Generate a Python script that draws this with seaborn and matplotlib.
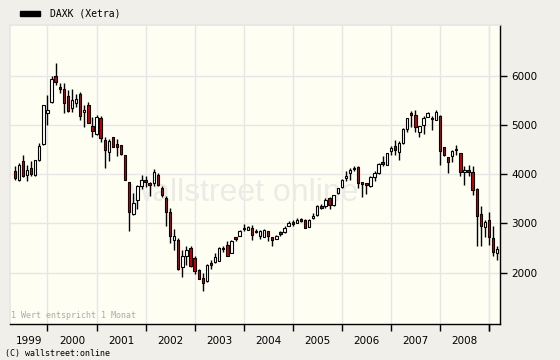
import numpy as np
import pandas as pd
import seaborn as sns
import matplotlib.pyplot as plt
from matplotlib.patches import Rectangle

# DAXK (Xetra), one candle per month, May 1999 - Mar 2009
opens = [4071, 3875, 4261, 3977, 4126, 3977, 4281, 4613, 5242, 5465, 6000, 5783,
         5729, 5594, 5344, 5459, 5635, 5262, 5405, 4985, 4816, 5141, 4701, 4444,
         4755, 4620, 4592, 4396, 3835, 3192, 3483, 3753, 3875, 3821, 3821, 3990,
         3720, 3517, 3233, 2671, 2657, 2116, 2346, 2502, 2299, 2048, 1893, 1825,
         2184, 2211, 2231, 2502, 2569, 2400, 2725, 2739, 2908, 2874, 2908, 2854,
         2739, 2725, 2840, 2725, 2685, 2820, 2820, 2942, 3030, 3009, 3090, 3077,
         2928, 3111, 3178, 3361, 3348, 3517, 3381, 3618, 3740, 3923, 4024, 4132,
         4139, 3835, 3821, 3753, 3943, 4024, 4254, 4193, 4464, 4579, 4450, 4633,
         4917, 5242, 5208, 4870, 5005, 5174, 5154, 5107, 5188, 4552, 4349, 4362,
         4511, 4430, 4038, 4092, 4044, 3706, 3199, 2928, 3077, 2705, 2400]
highs = [4159, 4227, 4396, 4193, 4261, 4290, 4633, 5410, 5614, 6000, 6257, 5851,
         5851, 5716, 5729, 5635, 5682, 5411, 5479, 5174, 5208, 5188, 4768, 4714,
         4760, 4714, 4600, 4400, 3850, 3618, 3787, 3977, 3956, 3840, 4105, 4024,
         3754, 3565, 3314, 2888, 2700, 2468, 2536, 2536, 2333, 2075, 1994, 2170,
         2251, 2387, 2510, 2549, 2637, 2657, 2730, 2860, 2996, 2940, 2975, 2888,
         2875, 2880, 2845, 2730, 2760, 2840, 2940, 3043, 3063, 3111, 3110, 3090,
         3090, 3212, 3370, 3400, 3517, 3537, 3585, 3730, 3900, 4058, 4126, 4173,
         4159, 3840, 3830, 3956, 4058, 4220, 4362, 4440, 4565, 4700, 4667, 4937,
         5150, 5296, 5310, 4990, 5188, 5260, 5188, 5310, 5200, 4560, 4360, 4498,
         4592, 4440, 4159, 4193, 4159, 3720, 3361, 3077, 3233, 2955, 2536]
lows = [3889, 3855, 3943, 3855, 3970, 3970, 4270, 4600, 5005, 5460, 5817, 5648,
        5256, 5276, 5276, 5377, 5107, 4958, 5039, 4768, 4802, 4653, 4126, 4261,
        4545, 4376, 4396, 3880, 2840, 3180, 3294, 3700, 3740, 3551, 3753, 3754,
        3537, 2955, 2603, 2454, 2050, 1913, 2163, 2116, 1960, 1860, 1622, 1805,
        2062, 2200, 2225, 2414, 2340, 2390, 2637, 2735, 2840, 2870, 2671, 2800,
        2685, 2720, 2651, 2549, 2680, 2739, 2806, 2940, 2955, 3000, 3030, 2900,
        2920, 3090, 3145, 3290, 3314, 3294, 3360, 3600, 3720, 3855, 3889, 4058,
        3720, 3537, 3605, 3740, 3855, 4010, 4159, 4180, 4396, 4396, 4295, 4620,
        4870, 4958, 4850, 4755, 4816, 5160, 4903, 5100, 4193, 4376, 4024, 4240,
        4396, 3970, 3774, 3956, 3584, 2536, 2536, 2725, 2569, 2346, 2251]
closes = [3923, 4180, 3956, 4092, 3997, 4281, 4565, 5404, 5310, 5932, 5885, 5729,
          5459, 5289, 5513, 5526, 5195, 5310, 5053, 4890, 5174, 4748, 4484, 4687,
          4552, 4552, 4410, 3889, 3233, 3415, 3767, 3889, 3835, 3774, 4038, 3787,
          3571, 3233, 2739, 2739, 2062, 2346, 2468, 2130, 2028, 1872, 1791, 2163,
          2157, 2319, 2502, 2481, 2346, 2637, 2685, 2854, 2888, 2928, 2772, 2820,
          2854, 2874, 2739, 2657, 2752, 2793, 2908, 3009, 2996, 3063, 3043, 2908,
          3077, 3158, 3361, 3314, 3469, 3381, 3571, 3720, 3889, 3970, 4092, 4105,
          3821, 3801, 3787, 3936, 4024, 4206, 4213, 4430, 4532, 4484, 4633, 4917,
          5141, 5201, 4958, 4985, 5141, 5242, 5120, 5276, 4464, 4389, 4247, 4471,
          4484, 4038, 4092, 4051, 3672, 3158, 2942, 3030, 2725, 2414, 2481]
years = ['1999', '2000', '2001', '2002', '2003', '2004', '2005', '2006', '2007', '2008']
y_ticks = [2000, 3000, 4000, 5000, 6000]

df = pd.DataFrame({'open': opens, 'high': highs, 'low': lows, 'close': closes})
df['month'] = pd.date_range('1999-05-01', periods=len(df), freq='MS')
df['x'] = np.arange(len(df))
df['up'] = df['close'] >= df['open']

sns.set_theme(style='white')
plt.rcParams['font.family'] = ['DejaVu Sans']

fig = plt.figure(figsize=(5.6, 3.6), dpi=100, facecolor='#f0efe9')
ax = fig.add_axes([10 / 560, 36 / 360, 490 / 560, 299 / 360])
ax.set_facecolor('#fefef2')

# watermark
ax.text(56, 3620, 'wallstreet online', fontsize=23, color='#ececE7',
        family='Liberation Sans', ha='center', va='center', zorder=1)

# candles
ax.vlines(df['x'], df['low'], df['high'], color='black', lw=1, zorder=3)
body_low = df[['open', 'close']].min(axis=1)
body_h = (df['close'] - df['open']).abs()
ax.bar(df['x'], body_h, bottom=body_low, width=0.58,
       color=np.where(df['up'], 'white', '#cc0000'),
       edgecolor='black', linewidth=0.8, zorder=4)

jan = df.index[df['month'].dt.month == 1].tolist() + [len(df) - 3]
ax.set_xlim(-1.17, 118.7)
ax.set_ylim(952, 7038)

ax.set_xticks(jan)
ax.set_xticklabels([])
label_pos = [(-1.17 + jan[0]) / 2] + [j + 6 for j in jan[:-2]]
ax.set_xticks(label_pos, minor=True)
ax.set_xticklabels(years, minor=True)
ax.tick_params(axis='x', which='major', length=5, width=1, color='black',
               direction='out', bottom=True)
ax.tick_params(axis='x', which='minor', length=0, pad=9, labelsize=7.5,
               labelcolor='black')

ax.yaxis.tick_right()
ax.set_yticks(y_ticks)
ax.set_yticklabels([str(v) for v in y_ticks])
ax.tick_params(axis='y', length=5, width=1, color='black', direction='out',
               right=True, pad=3, labelsize=7.5, labelcolor='black')

ax.grid(True, color='#e6e6e6', lw=1, zorder=0)
ax.set_axisbelow(True)
for s in ['left', 'top']:
    ax.spines[s].set_color('#e6e6e6')
for s in ['right', 'bottom']:
    ax.spines[s].set_color('black')
    ax.spines[s].set_linewidth(1)

ax.text(0.003, 0.012, '1 Wert entspricht 1 Monat', transform=ax.transAxes,
        fontsize=6, color='#aaaaaa', family='DejaVu Sans Mono', va='bottom')

# legend + copyright
fig.patches.append(Rectangle((20 / 560, 1 - 16 / 360), 20 / 560, 5 / 360,
                             transform=fig.transFigure, color='black'))
fig.text(50 / 560, 1 - 13.5 / 360, 'DAXK (Xetra)', fontsize=7,
         family='DejaVu Sans Mono', va='center', color='black')
fig.text(5 / 560, 2 / 360, '(C) wallstreet:online', fontsize=6,
         family='DejaVu Sans Mono', va='bottom', color='black')

fig.savefig('out.png', dpi=100, facecolor=fig.get_facecolor())
